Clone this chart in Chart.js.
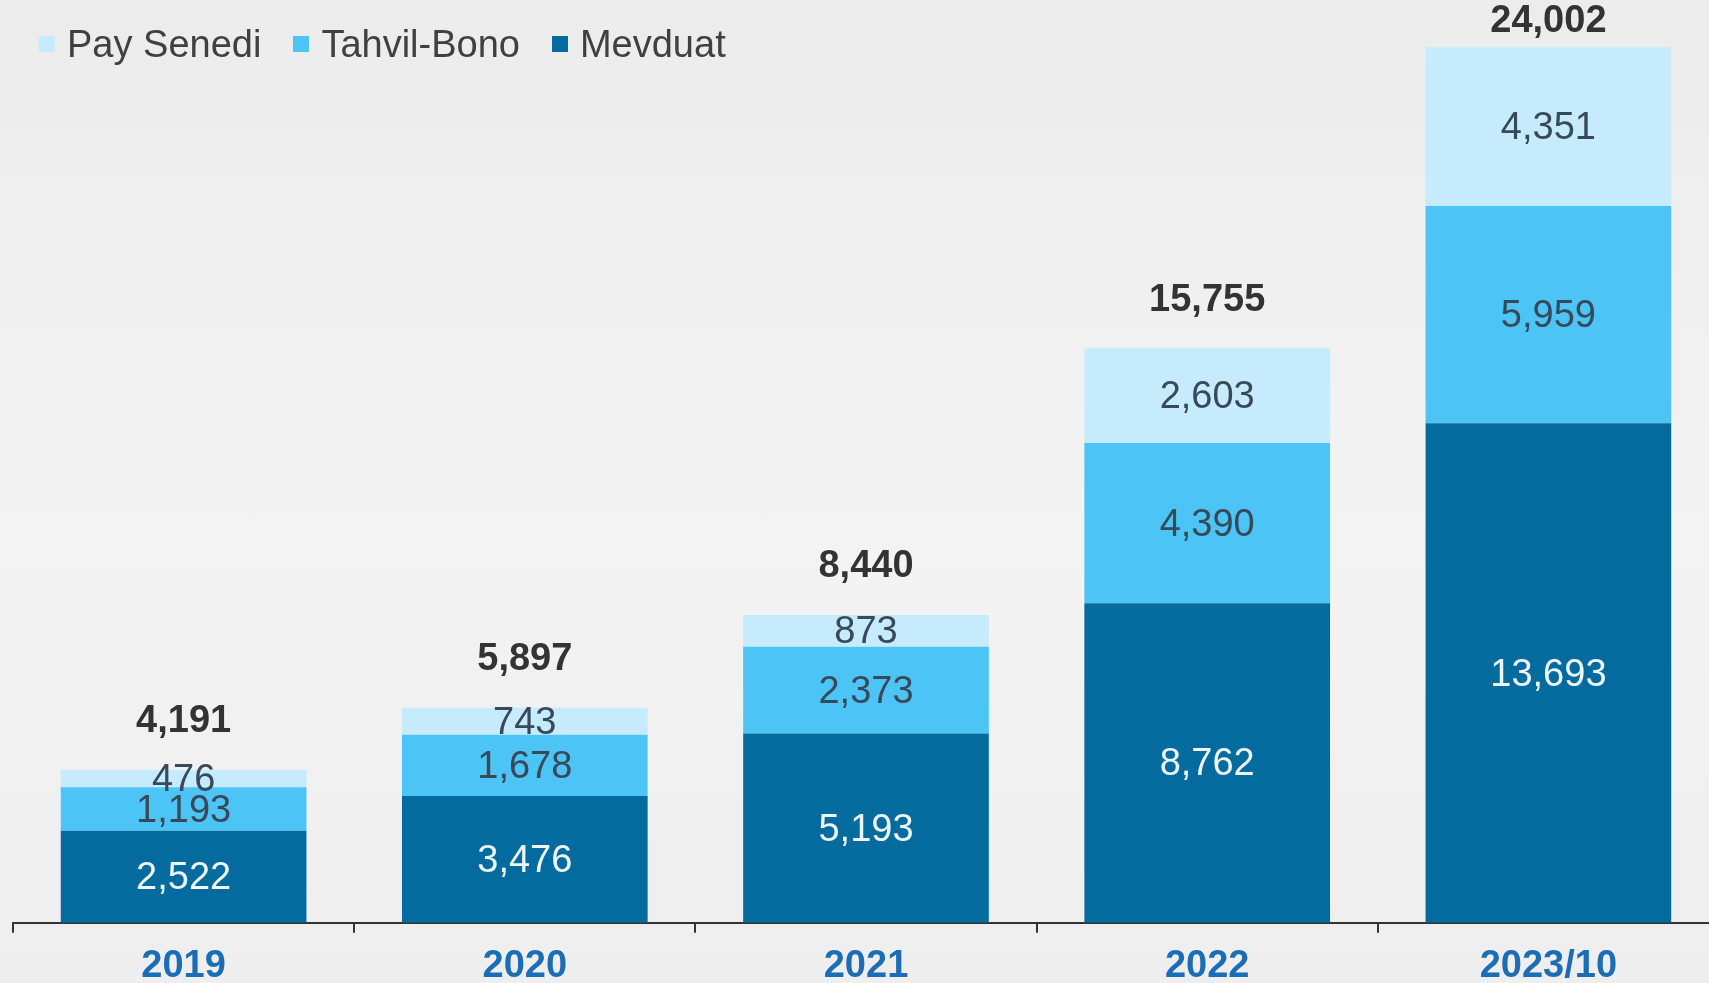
<!DOCTYPE html>
<html><head><meta charset="utf-8">
<script src="https://cdn.jsdelivr.net/npm/chart.js@4.4.0/dist/chart.umd.min.js"></script>
<style>
html,body{margin:0;padding:0;width:1709px;height:983px;overflow:hidden;background:linear-gradient(180deg,#ececec 0%,#f3f3f3 55%,#eeeeee 100%);}
#wrap{position:absolute;left:0;top:0;width:1709px;height:983px;overflow:hidden;}
#c{position:absolute;left:0;top:0;}
#legend{position:absolute;left:39px;top:21px;display:flex;align-items:center;font-family:'Liberation Sans',Arial,sans-serif;font-size:38px;color:#404040;line-height:46px;}
#legend .item{display:flex;align-items:center;margin-right:32px;}
#legend .box{width:16px;height:16px;margin-right:12px;}
</style></head><body><div id="wrap"><canvas id="c" width="1719" height="1001"></canvas><div id="legend"></div></div>
<script>
const categories = ['2019', '2020', '2021', '2022', '2023/10'];
const mevduat = [2522, 3476, 5193, 8762, 13693];
const tahvilBono = [1193, 1678, 2373, 4390, 5959];
const paySenedi = [476, 743, 873, 2603, 4351];
const totals = [4191, 5897, 8440, 15755, 24002];
const seriesNames = ['Mevduat', 'Tahvil-Bono', 'Pay Senedi'];
const seriesColors = ['#046b9f', '#4dc4f6', '#c5ebfc'];

const FONT = "'Liberation Sans', Arial, sans-serif";
const fmt = v => v.toLocaleString('en-US');

const labelPlugin = {
  id: 'valueLabels',
  afterDatasetsDraw(chart) {
    const ctx = chart.ctx;
    ctx.save();
    ctx.textAlign = 'center';
    ctx.textBaseline = 'middle';
    chart.data.datasets.forEach((ds, di) => {
      const meta = chart.getDatasetMeta(di);
      meta.data.forEach((el, i) => {
        const p = el.getProps(['x', 'y', 'base'], true);
        ctx.font = '38px ' + FONT;
        ctx.fillStyle = di === 0 ? '#eef7fb' : '#37495a';
        ctx.fillText(fmt(ds.data[i]), p.x, (p.y + p.base) / 2 + 2);
      });
    });
    const topMeta = chart.getDatasetMeta(chart.data.datasets.length - 1);
    topMeta.data.forEach((el, i) => {
      const p = el.getProps(['x', 'y'], true);
      ctx.font = 'bold 38px ' + FONT;
      ctx.fillStyle = '#333333';
      ctx.fillText(fmt(totals[i]), p.x, Math.max(22, p.y - 48));
    });
    ctx.restore();
  }
};

const chart = new Chart(document.getElementById('c'), {
  type: 'bar',
  data: {
    labels: categories,
    datasets: [
      { label: seriesNames[0], data: mevduat, backgroundColor: seriesColors[0] },
      { label: seriesNames[1], data: tahvilBono, backgroundColor: seriesColors[1] },
      { label: seriesNames[2], data: paySenedi, backgroundColor: seriesColors[2] }
    ]
  },
  options: {
    responsive: false,
    devicePixelRatio: 1,
    animation: false,
    layout: { padding: { left: 13, right: 0, top: 0, bottom: 0 } },
    datasets: { bar: { categoryPercentage: 1, barPercentage: 0.72, borderWidth: 0 } },
    plugins: {
      tooltip: { enabled: false },
      legend: { display: false }
    },
    scales: {
      x: {
        stacked: true,
        offset: true,
        grid: { display: true, drawOnChartArea: false, drawTicks: true, tickLength: 10, color: '#333333', lineWidth: 2, offset: true },
        border: { display: true, color: '#333333', width: 2 },
        ticks: { color: '#1b6db6', padding: 17, font: { size: 38, weight: 'bold', family: FONT, lineHeight: 0.9 } }
      },
      y: {
        stacked: true,
        display: false,
        min: 0,
        max: 25300
      }
    }
  },
  plugins: [labelPlugin]
});

// HTML legend built from the chart's datasets (top series first)
const legendEl = document.getElementById('legend');
chart.data.datasets.slice().reverse().forEach(ds => {
  const item = document.createElement('div');
  item.className = 'item';
  const box = document.createElement('span');
  box.className = 'box';
  box.style.background = ds.backgroundColor;
  const txt = document.createElement('span');
  txt.textContent = ds.label;
  item.appendChild(box);
  item.appendChild(txt);
  legendEl.appendChild(item);
});
</script></body></html>
